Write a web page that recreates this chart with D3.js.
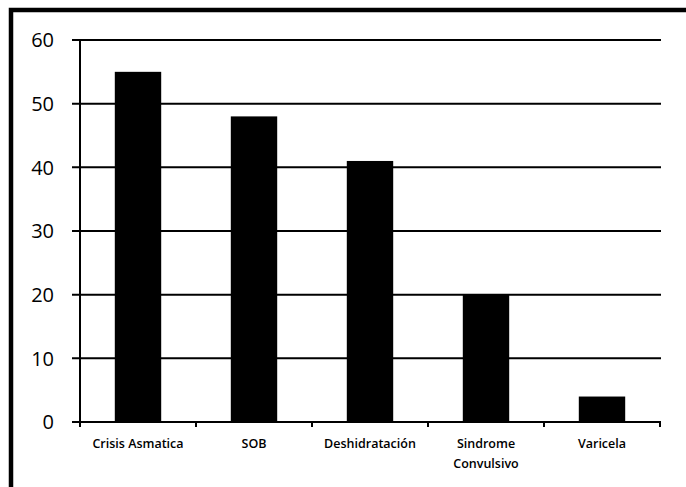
<!DOCTYPE html>
<html>
<head>
<meta charset="utf-8">
<script src="https://cdn.jsdelivr.net/npm/d3@7"></script>
<style>
  html, body { margin: 0; padding: 0; background: #fff; }
  svg { display: block; }
</style>
</head>
<body>
<svg id="chart" width="686" height="487"></svg>
<script>
// Casos por diagnóstico
const categories = ["Crisis Asmatica", "SOB", "Deshidratación", "Sindrome Convulsivo", "Varicela"];
const values = [55, 48, 41, 20, 4];
const yTicks = [0, 10, 20, 30, 40, 50, 60];

const svg = d3.select("#chart");
const W = 686, H = 487;
const margin = { left: 80, right: 26, top: 40, bottom: 65 };

// outer frame (top and left edges visible)
svg.append("path")
  .attr("d", `M11,${H} L11,10 L${W},10`)
  .attr("fill", "none")
  .attr("stroke", "#000")
  .attr("stroke-width", 4.5);

const x = d3.scaleBand()
  .domain(categories)
  .range([margin.left, W - margin.right])
  .paddingInner(0.6)
  .paddingOuter(0.3);

const xOuter = d3.scaleBand()
  .domain(categories)
  .range([margin.left, W - margin.right]);

const y = d3.scaleLinear()
  .domain([0, 60])
  .range([H - margin.bottom, margin.top]);

// gridlines
svg.append("g")
  .selectAll("line")
  .data(yTicks)
  .join("line")
  .attr("x1", margin.left - 8)
  .attr("x2", W - margin.right + 1)
  .attr("y1", d => y(d))
  .attr("y2", d => y(d))
  .attr("stroke", "#000")
  .attr("stroke-width", 2);

// y axis labels
svg.append("g")
  .selectAll("text")
  .data(yTicks)
  .join("text")
  .attr("x", 54)
  .attr("y", d => y(d))
  .attr("dy", "0.36em")
  .attr("text-anchor", "end")
  .attr("font-family", "Open Sans, sans-serif")
  .attr("font-size", 20)
  .attr("fill", "#000")
  .text(d => d);

// y axis line
svg.append("line")
  .attr("x1", margin.left).attr("x2", margin.left)
  .attr("y1", y(60)).attr("y2", y(0) + 5)
  .attr("stroke", "#000").attr("stroke-width", 2);

// bars
svg.append("g")
  .selectAll("rect")
  .data(values)
  .join("rect")
  .attr("x", (d, i) => x(categories[i]))
  .attr("width", x.bandwidth())
  .attr("y", d => y(d))
  .attr("height", d => y(0) - y(d))
  .attr("fill", "#000");

// x axis tick marks at category boundaries
svg.append("g")
  .selectAll("line")
  .data(categories)
  .join("line")
  .attr("x1", d => xOuter(d) + xOuter.bandwidth())
  .attr("x2", d => xOuter(d) + xOuter.bandwidth())
  .attr("y1", y(0))
  .attr("y2", y(0) + 5)
  .attr("stroke", "#000")
  .attr("stroke-width", 2);

// x axis labels
const lbl = svg.append("g")
  .selectAll("text")
  .data(categories)
  .join("text")
  .attr("text-anchor", "middle")
  .attr("font-family", "Open Sans, sans-serif")
  .attr("font-size", 12.5)
  .attr("font-weight", 600)
  .attr("fill", "#000");

lbl.each(function(d) {
  const t = d3.select(this);
  const cx = xOuter(d) + xOuter.bandwidth() / 2;
  const lines = d === "Sindrome Convulsivo" ? ["Sindrome", "Convulsivo"] : [d];
  lines.forEach((s, i) => {
    t.append("tspan").attr("x", cx).attr("y", 448 + i * 20).text(s);
  });
});
</script>
</body>
</html>
